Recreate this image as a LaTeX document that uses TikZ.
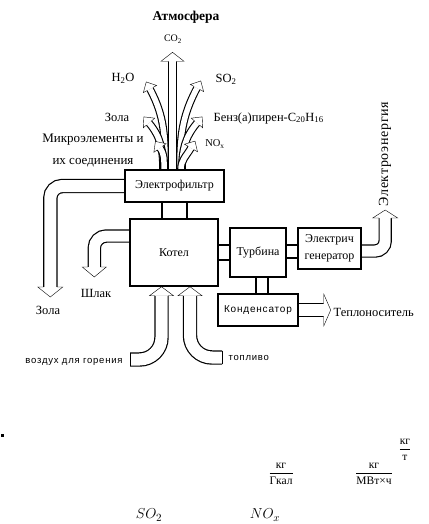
\documentclass[tikz,border=0pt]{standalone}
\usepackage{fontspec}
\setmainfont{Liberation Serif}
\newfontfamily\spacedsans[LetterSpace=8]{Liberation Sans}
\newfontfamily\spacedserif[LetterSpace=5]{Liberation Serif}
\usetikzlibrary{backgrounds}

\newcommand{\ahead}[5]{%
  \begin{scope}[shift={#1},rotate=#2]
    \draw[fill=white,line join=miter] (0,-#3) -- (0,-#4) -- (#5,0) -- (0,#4) -- (0,#3);
  \end{scope}}

\tikzset{
  box/.style={draw,rectangle,line width=1.4pt,inner sep=0pt,font=\fontsize{12}{17}\selectfont,align=center},
  hollow/.style={double,double distance=#1,line width=1.2pt},
  plume/.style={double,double distance=5.5pt,line width=1.1pt},
  lbl/.style={inner sep=0pt,font=\fontsize{12.5}{14}\selectfont}
}

\begin{document}
\begin{tikzpicture}[x=1pt,y=1pt,line width=1.2pt]
	\useasboundingbox (0,0) rectangle (428,-524);

	\node[box,minimum width=99pt,minimum height=32pt] (filter) at (174.5,-186) {Электрофильтр};
	\node[box,minimum width=88pt,minimum height=67pt] (kotel) at (174,-252.5) {Котел};
	\node[box,minimum width=56pt,minimum height=49pt] (turbina) at (258,-252.5) {Турбина};
	\node[box,minimum width=63pt,minimum height=41pt] (gen) at (329.5,-248.5) {Электрич\\генератор};
	\node[box,minimum width=80pt,minimum height=32pt,font=\fontsize{10}{12}\spacedsans] (kond) at (258,-310) {Конденсатор};

	\draw ([xshift=-12.5pt]filter.south) -- ([xshift=-12.5pt]filter.south |- kotel.north);
	\draw ([xshift=12.5pt]filter.south) -- ([xshift=12.5pt]filter.south |- kotel.north);
	\draw ([yshift=7.5pt]kotel.east) -- ([yshift=7.5pt]kotel.east -| turbina.west);
	\draw ([yshift=-7.5pt]kotel.east) -- ([yshift=-7.5pt]kotel.east -| turbina.west);
	\draw ([yshift=7.5pt]turbina.east) -- ([yshift=7.5pt]turbina.east -| gen.west);
	\draw ([yshift=-5.5pt]turbina.east) -- ([yshift=-5.5pt]turbina.east -| gen.west);
	\draw ([xshift=-2pt]turbina.south) -- ([xshift=-2pt]turbina.south |- kond.north);
	\draw ([xshift=10pt]turbina.south) -- ([xshift=10pt]turbina.south |- kond.north);

	\coordinate (h2o_h) at (150,-89);
	\coordinate (zola_h) at (149,-123);
	\coordinate (micro_h) at (160,-148);
	\coordinate (so2_h) at (197,-88);
	\coordinate (benz_h) at (197,-123);
	\coordinate (nox_h) at (191,-148);
	\coordinate (air_t) at (130,-359.5);
	\coordinate (fuel_t) at (222,-357.5);

	\begin{scope}[on background layer]
		\draw[plume] ([xshift=-9.5pt]filter.north) to[out=90,in=-62] (h2o_h);
		\ahead{(h2o_h)}{118}{3.3}{7.5}{8}
		\draw[plume] ([xshift=-11.5pt]filter.north) to[out=90,in=-50] (zola_h);
		\ahead{(zola_h)}{130}{3.3}{7.5}{8}
		\draw[plume] ([xshift=-10.5pt]filter.north) to[out=90,in=-55] (micro_h);
		\ahead{(micro_h)}{125}{3.3}{7.5}{8}
		\draw[plume] ([xshift=5.5pt]filter.north) to[out=90,in=-118] (so2_h);
		\ahead{(so2_h)}{62}{3.3}{7.5}{8}
		\draw[plume] ([xshift=7.5pt]filter.north) to[out=90,in=-130] (benz_h);
		\ahead{(benz_h)}{50}{3.3}{7.5}{8}
		\draw[plume] ([xshift=6.5pt]filter.north) to[out=90,in=-120] (nox_h);
		\ahead{(nox_h)}{60}{3.3}{7.5}{8}

		\draw[hollow=7.5pt] ([xshift=-2pt]filter.north) -- ++(0,108) coordinate (co2_h);
		\ahead{(co2_h)}{90}{4.35}{11.5}{9}

		\draw[hollow=12pt,rounded corners=12pt] (filter.west) -| ++(-74,-101) coordinate (ash_h);
		\ahead{(ash_h)}{-90}{6.6}{12.5}{10}
		\draw[hollow=11pt,rounded corners=12pt] ([yshift=16.5pt]kotel.west) -| ++(-35,-31) coordinate (shlak_h);
		\ahead{(shlak_h)}{-90}{6.1}{12}{10}

		\draw[hollow=11pt,rounded corners=10pt] ([yshift=-2.5pt]gen.east) -| ++(23.5,33) coordinate (el_h);
		\ahead{(el_h)}{90}{6.1}{12.5}{8}
		\draw[hollow=12pt] (kond.east) -- ++(25,0) coordinate (tepl_h);
		\ahead{(tepl_h)}{0}{6.6}{16}{7}

		\draw[hollow=12pt,rounded corners=22pt] (air_t) -| ([xshift=-12.5pt,yshift=-9pt]kotel.south) coordinate (air_h);
		\ahead{(air_h)}{90}{6.6}{12}{9}
		\draw ([yshift=6.6pt]air_t) -- ([yshift=-6.6pt]air_t);
		\draw[hollow=12pt,rounded corners=22pt] (fuel_t) -| ([xshift=16pt,yshift=-9pt]kotel.south) coordinate (fuel_h);
		\ahead{(fuel_h)}{90}{6.6}{12}{9}
		\draw ([yshift=6.6pt]fuel_t) -- ([yshift=-6.6pt]fuel_t);
	\end{scope}

	\node[lbl,font=\fontsize{13.5}{15}\selectfont\bfseries] (atm) at (186,-17) {Атмосфера};
	\node[lbl,font=\fontsize{10}{11}\selectfont] (co2) at (173,-39) {CO\textsubscript{2}};
	\node[lbl] (h2o) at (123,-78) {H\textsubscript{2}O};
	\node[lbl] (so2) at (226,-79) {SO\textsubscript{2}};
	\node[lbl] (zola_top) at (117,-117) {Зола};
	\node[lbl,anchor=west] (benz) at (213,-118) {Бенз(а)пирен-C\textsubscript{20}H\textsubscript{16}};
	\node[lbl,align=center,font=\fontsize{13}{22}\selectfont] (micro) at (93,-150) {Микроэлементы и\\их соединения};
	\node[lbl,font=\fontsize{10.5}{12}\selectfont] (nox) at (215,-144) {NO\textsubscript{x}};
	\node[lbl] (zola_bot) at (48,-310) {Зола};
	\node[lbl] (shlak) at (96,-293) {Шлак};
	\node[lbl,font=\fontsize{9.5}{11}\spacedsans] (air) at (74,-362) {воздух для горения};
	\node[lbl,anchor=west,font=\fontsize{9.5}{11}\spacedsans] (fuel) at (228,-358) {топливо};
	\node[lbl,anchor=west] (tepl) at (333,-312) {Теплоноситель};
	\node[lbl,rotate=90,anchor=west,font=\fontsize{14}{16}\spacedserif] (elen) at (385,-207) {Электроэнергия};

	\node[fill=black,inner sep=0pt,minimum size=3pt] (dot) at (2.5,-435) {};
	\node[lbl,font=\fontsize{11.5}{13}\selectfont] (f_gkal) at (281,-474) {$\displaystyle\frac{\mbox{кг}}{\mbox{Гкал}}$};
	\node[lbl,font=\fontsize{11.5}{13}\selectfont] (f_mwh) at (374,-474) {$\displaystyle\frac{\mbox{кг}}{\mbox{МВт×ч}}$};
	\node[lbl,font=\fontsize{11.5}{13}\selectfont] (f_t) at (405,-450) {$\displaystyle\frac{\mbox{кг}}{\mbox{т}}$};
	\node[lbl,font=\fontsize{15}{17}\selectfont] (so2_b) at (149,-515) {$SO_2$};
	\node[lbl,font=\fontsize{15}{17}\selectfont] (nox_b) at (265,-515) {$NO_x$};
\end{tikzpicture}
\end{document}
